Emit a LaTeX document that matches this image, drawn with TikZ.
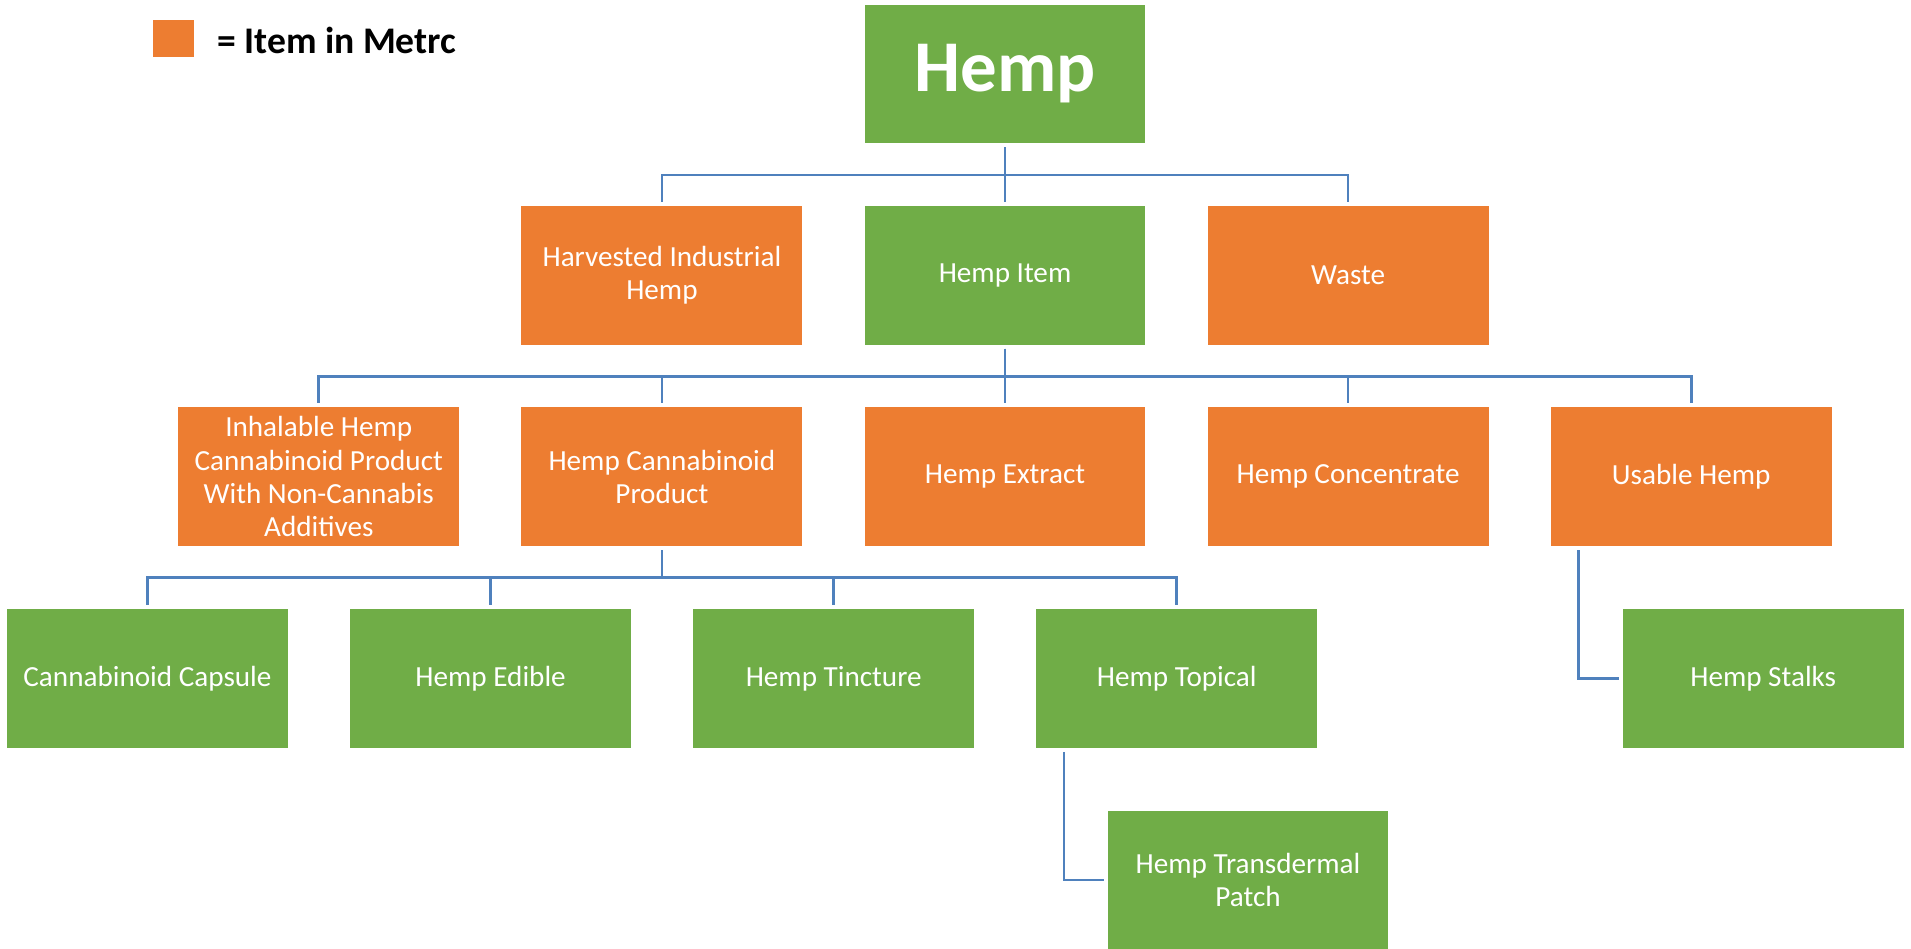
\documentclass[tikz,border=0pt]{standalone}
\usepackage{fontspec}
\setmainfont{Carlito}
\definecolor{metrcorange}{HTML}{ED7D31}
\definecolor{hempgreen}{HTML}{70AD47}
\definecolor{linkblue}{HTML}{4F81BD}

\begin{document}
\begin{tikzpicture}[x=0.02cm, y=-0.02cm,
box/.style={minimum width=5.62cm, minimum height=2.78cm, inner sep=2pt,
    align=center, text=white, font=\fontsize{16.6}{18.9}\selectfont
    },
orangebox/.style={box, fill=metrcorange},
greenbox/.style={box, fill=hempgreen},
link/.style={draw=linkblue, line width=0.055cm, shorten <=0.07cm, shorten >=0.07cm}
]
\useasboundingbox (0,0) rectangle (1911,948);

% legend
\node[fill=metrcorange, minimum width=0.82cm, minimum height=0.74cm, inner sep=0] (key) at (173.4,38.4) {};
\node[anchor=west, inner sep=0, font=\fontsize{21.4}{24}\selectfont\bfseries] (keytext) at (217,40) {= Item in Metrc};

\node[greenbox, font=\fontsize{41.5}{46}\selectfont\bfseries] (hemp) at (1005,74) {Hemp};

\node[orangebox] (harv)  at (661.9,275.5) {Harvested Industrial\\Hemp};
\node[greenbox]  (item)  at (1005,275.5)  {Hemp Item};
\node[orangebox] (waste) at (1348.1,275.5) {Waste};

\node[orangebox] (inhal)   at (318.8,476.7)  {Inhalable Hemp\\Cannabinoid Product\\With Non-Cannabis\\Additives};
\node[orangebox] (hcp)     at (661.9,476.7)  {Hemp Cannabinoid\\Product};
\node[orangebox] (extract) at (1005,476.7)   {Hemp Extract};
\node[orangebox] (conc)    at (1348.1,476.7) {Hemp Concentrate};
\node[orangebox] (usable)  at (1691.2,476.7) {Usable Hemp};

\node[greenbox] (capsule)  at (147.5,678.5)  {Cannabinoid Capsule};
\node[greenbox] (edible)   at (490.6,678.5)  {Hemp Edible};
\node[greenbox] (tincture) at (833.7,678.5)  {Hemp Tincture};
\node[greenbox] (topical)  at (1176.8,678.5) {Hemp Topical};
\node[greenbox] (stalks)   at (1763.2,678.5) {Hemp Stalks};

\node[greenbox] (patch) at (1248,880) {Hemp Transdermal\\Patch};

\foreach \p/\c in { hemp/harv,hemp/item,hemp/waste,
                    item/inhal,item/hcp,item/extract,item/conc,item/usable,
                    hcp/capsule,hcp/edible,hcp/tincture,hcp/topical%
            }
    \draw [link] (\p.south) -- ++(0,31.2) -| (\c.north);

\foreach \p/\c in {usable/stalks,topical/patch}
    \draw [link] ([xshift=0.56cm]\p.south west) |- (\c.west);
\end{tikzpicture}
\end{document}
